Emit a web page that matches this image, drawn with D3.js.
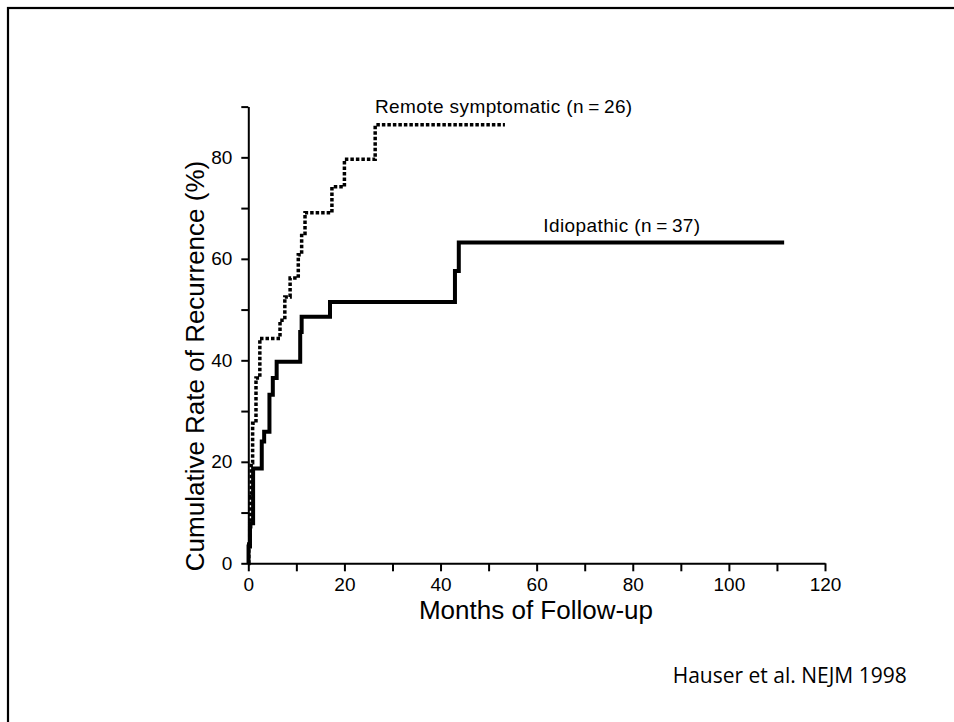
<!DOCTYPE html>
<html>
<head>
<meta charset="utf-8">
<script src="https://cdn.jsdelivr.net/npm/d3@7"></script>
<style>
  body { margin: 0; background: #fff; }
  svg { display: block; }
  .axis path, .axis line { stroke: #000; stroke-width: 2; }
  .axis text { font-family: "Liberation Sans", Arial, sans-serif; font-size: 19px; fill: #000; }
</style>
</head>
<body>
<div id="chart"></div>
<script>
// Kaplan-Meier style step data (months, cumulative % recurrence)
var remoteMonths = [0, 0.1, 0.3, 0.5, 0.6, 0.9, 1.6, 2.4, 6.6, 7.6, 8.7, 10.4, 11.1, 11.8, 17.4, 20.0, 26.4, 53.4];
var remoteRate   = [0, 3.8, 7.2, 13.1, 19.8, 27.6, 36.5, 44.3, 47.9, 52.5, 56.2, 60.8, 65.0, 69.1, 74.2, 79.6, 86.4, 86.4];

var idioMonths = [0, 0.05, 0.35, 1.0, 2.8, 3.3, 4.4, 5.1, 5.9, 10.8, 11.1, 17.0, 43.0, 43.8, 111.5];
var idioRate   = [0, 3.3, 7.9, 18.7, 24.0, 25.9, 33.2, 36.5, 39.7, 45.6, 48.6, 51.5, 57.6, 63.2, 63.2];

var xTicks = [0, 10, 20, 30, 40, 50, 60, 70, 80, 90, 100, 110, 120];
var yTicks = [0, 10, 20, 30, 40, 50, 60, 70, 80, 90];

var remoteLabel = "Remote symptomatic (n\u2009=\u200926)";
var idioLabel = "Idiopathic (n\u2009=\u200937)";
var xTitle = "Months of Follow-up";
var yTitle = "Cumulative Rate of Recurrence (%)";
var source = "Hauser et al. NEJM 1998";

var svgWidth = 954;
var svgHeight = 722;

var svg = d3.select("#chart")
  .append("svg")
  .attr("width", svgWidth)
  .attr("height", svgHeight);

svg.append("rect")
  .attr("width", svgWidth)
  .attr("height", svgHeight)
  .attr("fill", "#fff");

// frame (runs off the right and bottom edges)
svg.append("rect")
  .attr("x", 8)
  .attr("y", 8)
  .attr("width", 960)
  .attr("height", 730)
  .attr("fill", "none")
  .attr("stroke", "#000")
  .attr("stroke-width", 2.2);

var xScale = d3.scaleLinear().domain([0, 120]).range([248.3, 825]);
var yScale = d3.scaleLinear().domain([0, 90]).range([563.3, 106.6]);

var bottomAxis = d3.axisBottom(xScale)
  .tickValues(xTicks)
  .tickSize(8)
  .tickSizeOuter(0)
  .tickPadding(6)
  .tickFormat(d => d % 20 === 0 ? d : "");

var leftAxis = d3.axisLeft(yScale)
  .tickValues(yTicks)
  .tickSize(7)
  .tickSizeOuter(0)
  .tickPadding(9)
  .tickFormat(d => d % 20 === 0 ? d : "");

svg.append("g")
  .attr("class", "axis")
  .attr("transform", `translate(0, ${yScale(0)})`)
  .call(bottomAxis);

svg.append("g")
  .attr("class", "axis")
  .attr("transform", `translate(${xScale(0)}, 0)`)
  .call(leftAxis);

var stepLine = d3.line()
  .x(d => xScale(d[0]))
  .y(d => yScale(d[1]))
  .curve(d3.curveStepAfter);

svg.append("path")
  .datum(d3.zip(idioMonths, idioRate))
  .attr("d", stepLine)
  .attr("fill", "none")
  .attr("stroke", "#000")
  .attr("stroke-width", 4);

svg.append("path")
  .datum(d3.zip(remoteMonths, remoteRate))
  .attr("d", stepLine)
  .attr("fill", "none")
  .attr("stroke", "#000")
  .attr("stroke-width", 3.5)
  .attr("stroke-dasharray", "3.5,2");

// curve labels
svg.append("text")
  .attr("x", 375)
  .attr("y", 112.7)
  .style("font-family", "Liberation Sans, Arial, sans-serif")
  .style("font-size", "19px")
  .style("letter-spacing", "0.4px")
  .text(remoteLabel);

svg.append("text")
  .attr("x", 543.3)
  .attr("y", 231.7)
  .style("font-family", "Liberation Sans, Arial, sans-serif")
  .style("font-size", "19px")
  .style("letter-spacing", "0.4px")
  .text(idioLabel);

// axis titles
svg.append("text")
  .attr("x", 536)
  .attr("y", 619)
  .style("font-family", "Liberation Sans, Arial, sans-serif")
  .style("font-size", "26px")
  .style("text-anchor", "middle")
  .text(xTitle);

svg.append("text")
  .attr("transform", "translate(204, 366) rotate(-90)")
  .style("font-family", "Liberation Sans, Arial, sans-serif")
  .style("font-size", "26px")
  .style("text-anchor", "middle")
  .text(yTitle);

svg.append("text")
  .attr("x", 672.7)
  .attr("y", 682.7)
  .style("font-family", "Open Sans, sans-serif")
  .style("font-size", "21px")
  .text(source);
</script>
</body>
</html>
